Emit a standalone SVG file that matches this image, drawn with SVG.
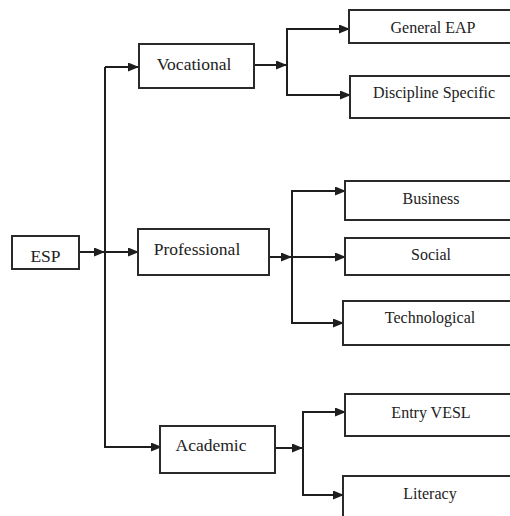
<svg xmlns="http://www.w3.org/2000/svg" width="510" height="516" viewBox="0 0 510 516">
<defs>
<marker id="ah" markerWidth="11" markerHeight="10" refX="10" refY="4.5" orient="auto" markerUnits="userSpaceOnUse">
<path d="M0,0 L11,4.5 L0,9 z" fill="#1e1e1e"/>
</marker>
<style>
.box{fill:#fff;stroke:#2a2a2a;stroke-width:2}
.t1{font-family:"Liberation Serif","Times New Roman",serif;font-size:17.5px;fill:#222;text-anchor:middle}
.t2{font-family:"Liberation Serif","Times New Roman",serif;font-size:16px;fill:#222;text-anchor:middle}
.c{fill:none;stroke:#1e1e1e;stroke-width:2}
.a{fill:none;stroke:#1e1e1e;stroke-width:2;marker-end:url(#ah)}
</style>
</defs>
<rect width="510" height="516" fill="#fff"/>
<g id="connectors">
<line class="a" x1="79" y1="252" x2="104" y2="252"/>
<line class="c" x1="105" y1="67" x2="105" y2="448"/>
<line class="a" x1="105" y1="67" x2="138" y2="67"/>
<line class="a" x1="105" y1="252" x2="138" y2="252"/>
<line class="a" x1="105" y1="447" x2="161" y2="447"/>
<line class="a" x1="254" y1="65" x2="286" y2="65"/>
<line class="c" x1="287" y1="28" x2="287" y2="96"/>
<line class="a" x1="287" y1="29" x2="349" y2="29"/>
<line class="a" x1="287" y1="95" x2="350" y2="95"/>
<line class="a" x1="269" y1="257" x2="291" y2="257"/>
<line class="c" x1="292" y1="190" x2="292" y2="324"/>
<line class="a" x1="292" y1="191" x2="345" y2="191"/>
<line class="a" x1="292" y1="257" x2="345" y2="257"/>
<line class="a" x1="292" y1="323" x2="343" y2="323"/>
<line class="a" x1="271" y1="448" x2="302" y2="448"/>
<line class="c" x1="303" y1="411" x2="303" y2="496"/>
<line class="a" x1="303" y1="412" x2="345" y2="412"/>
<line class="a" x1="303" y1="495" x2="343" y2="495"/>
</g>
<g id="esp"><rect class="box" x="12" y="236" width="67" height="33"/><text class="t1" x="45.5" y="262">ESP</text></g>
<g id="vocational"><rect class="box" x="139" y="44" width="115" height="44"/><text class="t1" x="194" y="70">Vocational</text></g>
<g id="professional"><rect class="box" x="138" y="229" width="131" height="46"/><text class="t1" x="197" y="255">Professional</text></g>
<g id="academic"><rect class="box" x="160" y="426" width="115" height="47"/><text class="t1" x="211" y="451">Academic</text></g>
<g id="general-eap"><rect class="box" x="349" y="10" width="175" height="33"/><text class="t2" x="433" y="33">General EAP</text></g>
<g id="discipline-specific"><rect class="box" x="350" y="76" width="175" height="42"/><text class="t2" x="434" y="98">Discipline Specific</text></g>
<g id="business"><rect class="box" x="345" y="181" width="175" height="39"/><text class="t2" x="431" y="204">Business</text></g>
<g id="social"><rect class="box" x="345" y="238" width="175" height="37"/><text class="t2" x="431" y="260">Social</text></g>
<g id="technological"><rect class="box" x="343" y="301" width="175" height="44"/><text class="t2" x="430" y="323">Technological</text></g>
<g id="entry-vesl"><rect class="box" x="345" y="394" width="175" height="42"/><text class="t2" x="431" y="418">Entry VESL</text></g>
<g id="literacy"><rect class="box" x="343" y="476" width="175" height="60"/><text class="t2" x="430" y="499">Literacy</text></g>
</svg>
